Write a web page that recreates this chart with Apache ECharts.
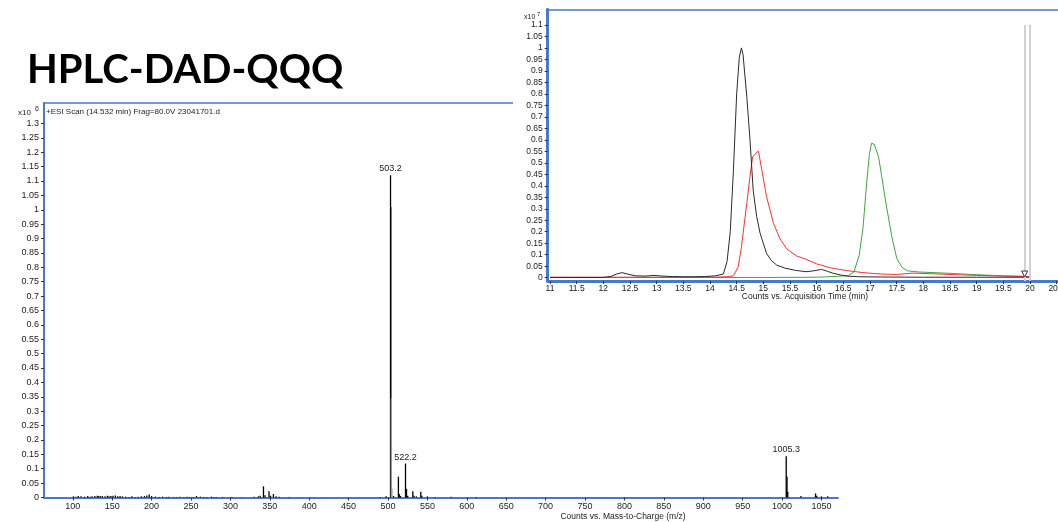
<!DOCTYPE html>
<html>
<head>
<meta charset="utf-8">
<script src="https://cdn.jsdelivr.net/npm/echarts@6/dist/echarts.min.js"></script>
<style>
    html, body { margin: 0; padding: 0; background: #fff; }
    #wrap { position: relative; width: 1058px; height: 522px; overflow: hidden; }
    #chart_ms { position: absolute; left: 0; top: 0; width: 1058px; height: 522px; }
    #chart_tic { position: absolute; left: 513px; top: 0; width: 545px; height: 302px; background: #fff; }
</style>
</head>
<body>
<div id="wrap">
    <div id="chart_ms"></div>
    <div id="chart_tic"></div>
</div>
<script>
/* mass spectrum (x10^6 counts) */
var msMz = [100.8, 104, 107, 110.5, 115, 119, 122, 124.5, 128, 131, 133, 135, 137.5, 141, 144, 146, 148.5, 151, 154, 157,
    160, 163, 167, 171, 175, 179, 183, 187, 191, 194, 197, 200, 205, 210, 214, 219, 222, 228, 232, 236,
    241, 245, 248, 253, 257, 262, 266, 270, 276, 279, 282, 290, 302, 315, 330, 335.5, 337.8, 342, 344, 349,
    351, 354.6, 358, 362, 375, 490, 497.6, 503.2, 503.5, 504.2, 505.0, 507, 513.2, 514.5, 516, 522.2, 523.5, 525, 531.5, 533,
    536, 541.6, 543, 550, 560, 580, 612, 1005.3, 1006.3, 1007.3, 1024, 1042.5, 1044, 1050, 1058];
var msCounts = [0.004, 0.003, 0.005, 0.004, 0.003, 0.005, 0.003, 0.004, 0.005, 0.006, 0.005, 0.004, 0.005, 0.004, 0.006, 0.004, 0.005, 0.006, 0.007, 0.004,
    0.005, 0.004, 0.003, 0.002, 0.004, 0.002, 0.003, 0.004, 0.005, 0.007, 0.01, 0.005, 0.003, 0.002, 0.003, 0.002, 0.003, 0.002, 0.002, 0.003,
    0.002, 0.003, 0.002, 0.002, 0.005, 0.003, 0.002, 0.002, 0.003, 0.002, 0.002, 0.002, 0.002, 0.001, 0.003, 0.004, 0.006, 0.039, 0.008, 0.022,
    0.006, 0.012, 0.004, 0.003, 0.002, 0.002, 0.004, 1.12, 1.01, 0.345, 0.03, 0.005, 0.072, 0.012, 0.005, 0.118, 0.03, 0.006, 0.022, 0.006,
    0.004, 0.02, 0.006, 0.004, 0.002, 0.003, 0.002, 0.1435, 0.072, 0.02, 0.005, 0.014, 0.006, 0.004, 0.004];
var msLabelMz = [503.2, 522.2, 1005.3];
var msGrayMz = [504.2, 505.0];
var msXTicks = [100, 150, 200, 250, 300, 350, 400, 450, 500, 550, 600, 650, 700, 750, 800, 850, 900, 950, 1000, 1050];
var msYTicks = [0, 0.05, 0.1, 0.15, 0.2, 0.25, 0.3, 0.35, 0.4, 0.45, 0.5, 0.55, 0.6, 0.65, 0.7, 0.75, 0.8, 0.85, 0.9, 0.95,
    1, 1.05, 1.1, 1.15, 1.2, 1.25, 1.3];

/* chromatograms (x10^7 counts) */
var blackTime = [11.0, 11.5, 12.0, 12.15, 12.25, 12.35, 12.45, 12.6, 12.8, 12.95, 13.1, 13.3, 13.5, 13.7, 13.9, 14.1, 14.25, 14.32, 14.38, 14.44,
    14.5, 14.55, 14.59, 14.62, 14.69, 14.75, 14.81, 14.875, 14.94, 15.06, 15.15, 15.25, 15.4, 15.6, 15.8, 15.95, 16.09, 16.2, 16.31, 16.45,
    16.56, 16.8, 17.2, 18.0, 19.0, 19.9, 20.0];
var blackCounts = [0.001, 0.001, 0.001, 0.006, 0.016, 0.022, 0.016, 0.008, 0.007, 0.01, 0.007, 0.005, 0.004, 0.004, 0.005, 0.008, 0.016, 0.07, 0.2, 0.47,
    0.8, 0.96, 1.0, 0.97, 0.788, 0.6, 0.38, 0.266, 0.193, 0.106, 0.075, 0.055, 0.042, 0.032, 0.026, 0.03, 0.036, 0.028, 0.019, 0.012,
    0.007, 0.004, 0.003, 0.002, 0.002, 0.002, 0.002];
var redTime = [11.0, 12.0, 13.0, 14.0, 14.3, 14.44, 14.53, 14.59, 14.69, 14.75, 14.8, 14.84, 14.87, 14.91, 14.97, 15.06, 15.19, 15.31, 15.44, 15.62,
    15.8, 16.0, 16.25, 16.56, 16.87, 17.2, 17.5, 17.8, 18.2, 18.6, 19.0, 19.5, 20.0];
var redCounts = [0.002, 0.002, 0.002, 0.002, 0.004, 0.008, 0.048, 0.135, 0.324, 0.44, 0.527, 0.535, 0.545, 0.55, 0.47, 0.353, 0.237, 0.17, 0.125, 0.095,
    0.08, 0.06, 0.043, 0.031, 0.022, 0.016, 0.014, 0.02, 0.017, 0.013, 0.01, 0.007, 0.005];
var greenTime = [11.0, 14.0, 15.0, 16.0, 16.4, 16.6, 16.7, 16.8, 16.87, 16.94, 16.99, 17.03, 17.08, 17.16, 17.22, 17.31, 17.41, 17.5, 17.6, 17.7,
    17.9, 18.2, 18.5, 19.0, 19.5, 20.0];
var greenCounts = [0.001, 0.001, 0.001, 0.002, 0.006, 0.01, 0.025, 0.1, 0.22, 0.42, 0.54, 0.585, 0.58, 0.527, 0.44, 0.309, 0.178, 0.085, 0.045, 0.03,
    0.025, 0.022, 0.019, 0.013, 0.008, 0.005];
var cursorTime = [19.9, 20.0];
var cursorTop = 1.1;
var ticXTicks = [11, 11.5, 12, 12.5, 13, 13.5, 14, 14.5, 15, 15.5, 16, 16.5, 17, 17.5, 18, 18.5, 19, 19.5, 20, 20.5];
var ticYTicks = [0, 0.05, 0.1, 0.15, 0.2, 0.25, 0.3, 0.35, 0.4, 0.45, 0.5, 0.55, 0.6, 0.65, 0.7, 0.75, 0.8, 0.85, 0.9, 0.95,
    1, 1.05, 1.1];

var axisBlue = '#4a78cc';
var tickFont = 'Liberation Sans';

var chart_ms = null;
var chart_tic = null;

window.onload = function () {
    initMsChart();
    initTicChart();
};

function zipXY(xs, ys) {
    var out = [];
    for (var i = 0; i < xs.length; i++) {
        out.push([xs[i], ys[i]]);
    }
    return out;
}

// plain number, no thousands separator
function plainLabel(v) {
    return String(v);
}

function initMsChart() {
    chart_ms = echarts.init(document.getElementById('chart_ms'));

    var barData = [];
    for (var i = 0; i < msMz.length; i++) {
        var item = { value: [msMz[i], msCounts[i]] };
        if (msGrayMz.indexOf(msMz[i]) > -1) {
            item.itemStyle = { color: '#9c9c9c' };
        }
        if (msLabelMz.indexOf(msMz[i]) > -1) {
            item.label = { show: true, position: 'top', distance: 2, formatter: msMz[i].toFixed(1) };
        }
        barData.push(item);
    }

    var option = {
        animation: false,
        grid: { left: 44, top: 103, right: 220, bottom: 24.5, outerBoundsMode: 'none' },
        graphic: [
            { type: 'text', x: 27, y: 70, style: { text: 'HPLC-DAD-QQQ', font: 'bold 40px Lato', fill: '#000', verticalAlign: 'middle' } },
            { type: 'text', x: 18, y: 113, style: { text: 'x10', font: '8px "Liberation Sans"', fill: '#222', verticalAlign: 'middle' } },
            { type: 'text', x: 35, y: 109, style: { text: '6', font: '7px "Liberation Sans"', fill: '#222', verticalAlign: 'middle' } },
            { type: 'text', x: 46, y: 112, style: { text: '+ESI Scan (14.532 min) Frag=80.0V 23041701.d', font: '8px "Liberation Sans"', fill: '#222', verticalAlign: 'middle' } },
            { type: 'text', x: 623, y: 517, style: { text: 'Counts vs. Mass-to-Charge (m/z)', font: '8.5px "Liberation Sans"', fill: '#222', align: 'center', verticalAlign: 'middle' } }
        ],
        xAxis: [
            {
                type: 'value',
                min: 63.5,
                max: 1071,
                axisLine: { show: true, onZero: false, lineStyle: { color: axisBlue, width: 2 } },
                axisTick: { show: true, customValues: msXTicks, length: 3, lineStyle: { color: '#333' } },
                axisLabel: { customValues: msXTicks, formatter: plainLabel, color: '#222', fontSize: 9, fontFamily: tickFont, margin: 5 },
                splitLine: { show: false }
            },
            {
                type: 'value',
                position: 'top',
                min: 63.5,
                max: 1071,
                axisLine: { show: true, onZero: false, lineStyle: { color: axisBlue, width: 1.5 } },
                axisTick: { show: false },
                axisLabel: { show: false },
                splitLine: { show: false }
            }
        ],
        yAxis: [
            {
                type: 'value',
                min: 0,
                max: 1.371,
                axisLine: { show: true, lineStyle: { color: axisBlue, width: 2 } },
                axisTick: { show: true, customValues: msYTicks, length: 3, lineStyle: { color: '#333' } },
                axisLabel: { customValues: msYTicks, formatter: plainLabel, color: '#222', fontSize: 9, fontFamily: tickFont, margin: 5 },
                splitLine: { show: false }
            }
        ],
        series: [
            {
                name: 'ESI Scan',
                type: 'bar',
                xAxisIndex: 0,
                barWidth: 1.3,
                itemStyle: { color: '#000' },
                label: { color: '#222', fontSize: 9, fontFamily: tickFont },
                data: barData
            }
        ]
    };

    chart_ms.setOption(option);
}

function initTicChart() {
    chart_tic = echarts.init(document.getElementById('chart_tic'));

    var lineBase = {
        type: 'line',
        showSymbol: false,
        symbol: 'none',
        smooth: false
    };

    var cursorLines = [];
    for (var i = 0; i < cursorTime.length; i++) {
        cursorLines.push([{ coord: [cursorTime[i], -0.0144] }, { coord: [cursorTime[i], cursorTop] }]);
    }

    var option = {
        animation: false,
        grid: { left: 34.7, top: 9.3, right: 0, bottom: 21, outerBoundsMode: 'none' },
        graphic: [
            { type: 'text', x: 11, y: 17, style: { text: 'x10', font: '7px "Liberation Sans"', fill: '#222', verticalAlign: 'middle' } },
            { type: 'text', x: 24, y: 14, style: { text: '7', font: '6px "Liberation Sans"', fill: '#222', verticalAlign: 'middle' } },
            { type: 'text', x: 292, y: 297, style: { text: 'Counts vs. Acquisition Time (min)', font: '8.5px "Liberation Sans"', fill: '#222', align: 'center', verticalAlign: 'middle' } }
        ],
        xAxis: [
            {
                type: 'value',
                min: 10.957,
                max: 20.525,
                axisLine: { show: true, onZero: false, lineStyle: { color: axisBlue, width: 3 } },
                axisTick: { show: true, customValues: ticXTicks, length: 3, lineStyle: { color: '#333' } },
                axisLabel: { customValues: ticXTicks, formatter: plainLabel, color: '#222', fontSize: 8.5, fontFamily: tickFont, margin: 3 },
                splitLine: { show: false }
            },
            {
                type: 'value',
                position: 'top',
                min: 10.957,
                max: 20.525,
                axisLine: { show: true, onZero: false, lineStyle: { color: axisBlue, width: 1.5 } },
                axisTick: { show: false },
                axisLabel: { show: false },
                splitLine: { show: false }
            }
        ],
        yAxis: [
            {
                type: 'value',
                min: -0.0144,
                max: 1.168,
                axisLine: { show: true, onZero: false, lineStyle: { color: axisBlue, width: 3 } },
                axisTick: { show: true, customValues: ticYTicks, length: 3, lineStyle: { color: '#333' } },
                axisLabel: { customValues: ticYTicks, formatter: plainLabel, color: '#222', fontSize: 8.5, fontFamily: tickFont, margin: 5 },
                splitLine: { show: false }
            }
        ],
        series: [
            Object.assign({}, lineBase, {
                name: 'green',
                lineStyle: { color: '#3fa63f', width: 1 },
                data: zipXY(greenTime, greenCounts)
            }),
            Object.assign({}, lineBase, {
                name: 'red',
                lineStyle: { color: '#ff3030', width: 1 },
                data: zipXY(redTime, redCounts)
            }),
            Object.assign({}, lineBase, {
                name: 'black',
                lineStyle: { color: '#2a2a2a', width: 1 },
                data: zipXY(blackTime, blackCounts),
                markLine: {
                    silent: true,
                    symbol: ['none', 'none'],
                    label: { show: false },
                    lineStyle: { color: '#d2d2d2', width: 2, type: 'solid' },
                    data: cursorLines
                },
                markPoint: {
                    silent: true,
                    symbol: 'triangle',
                    symbolSize: 6,
                    symbolRotate: 180,
                    itemStyle: { color: '#fff', borderColor: '#333', borderWidth: 1 },
                    label: { show: false },
                    data: [{ coord: [cursorTime[0], 0.016] }]
                }
            })
        ]
    };

    chart_tic.setOption(option);
}
</script>
</body>
</html>
